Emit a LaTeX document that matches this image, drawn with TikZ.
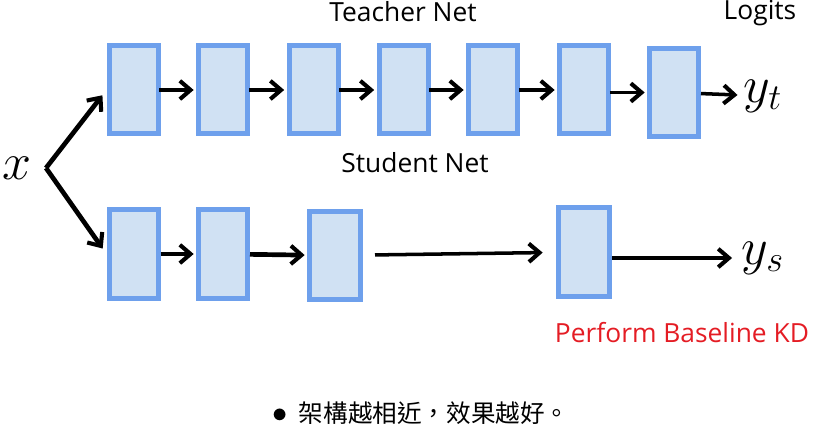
\documentclass[tikz,border=0pt]{standalone}
\usepackage{fix-cm}
\usepackage{fontspec}
\setmainfont{Open Sans}
\newfontfamily\cjk{Noto Sans CJK TC}
\usetikzlibrary{arrows.meta}
\definecolor{layerfill}{RGB}{208,225,243}
\definecolor{layeredge}{RGB}{110,160,236}
\definecolor{kdred}{RGB}{228,28,36}
\tikzset{
  layer/.style={draw=layeredge,fill=layerfill,line width=0.15cm,
    minimum width=1.47cm,minimum height=2.64cm,inner sep=0pt},
  flow/.style={line width=3pt,-{Straight Barb[length=0.32cm,width=0.55cm,line width=3.5pt]}},
  label/.style={font=\fontsize{22.5}{27}\selectfont,inner sep=0pt},
  mathlbl/.style={inner sep=2pt}
}
\newcommand{\bigmath}[1]{\scalebox{1.85}{\fontsize{24}{28}\selectfont$#1$}}
\begin{document}
\begin{tikzpicture}[x=0.03cm,y=-0.03cm]
  \useasboundingbox (0,0) rectangle (824,432);
  % teacher net
  \foreach \n/\xx/\yy in {1/133.5/90,2/223/90,3/313.5/90,4/403.5/90,5/493/90,6/584/90,7/674/92.5}
    \node[layer] (t\n) at (\xx,\yy) {};
  \foreach \a/\b in {1/2,2/3,3/4,4/5,5/6}
    \draw[flow,shorten <=-1pt,shorten >=2pt] (t\a) -- (t\b);
  \draw[flow,shorten <=-1pt,shorten >=2pt] (t6.east |- t7) -- (t7);
  % student net
  \node[layer] (s1) at (133.5,254) {};
  \node[layer] (s2) at (223,254) {};
  \node[layer,minimum width=1.53cm] (s3) at (335,255.5) {};
  \node[layer,minimum width=1.53cm] (s4) at (584,252) {};
  \draw[flow,shorten >=2pt] (s1) -- (s2);
  \draw[flow,line width=4pt,shorten >=2pt] (s2) -- (s3);
  \draw[flow,shorten <=0.36cm,shorten >=0.4cm] (s3) -- (s4);
  % input and outputs
  \node[mathlbl] (x) at (17,168) {\bigmath{x}};
  \coordinate (fork) at (46,168);
  \draw[flow,line width=4pt,shorten >=0.2cm] (fork) -- (t1.west);
  \draw[flow,line width=4pt,shorten >=0.2cm] (fork) -- (s1.west);
  \node[mathlbl] (yt) at (763,96) {\bigmath{y_t}};
  \node[mathlbl] (ys) at (763,258) {\bigmath{y_s}};
  \draw[flow,shorten >=3pt] (t7) -- (yt);
  \draw[flow,shorten >=6pt] (s4.east |- ys) -- (ys);
  % labels
  \node[label] (teachername) at (403,12) {Teacher Net};
  \node[label] (logits) at (760,13) {Logits};
  \node[label] (studentname) at (415,163) {Student Net};
  \node[label,text=kdred] (kd) at (682,333) {Perform Baseline KD};
  \node[label,font=\cjk\fontsize{21}{25}\selectfont] (note) at (421,413) {{\fontsize{26}{26}\selectfont$\bullet$}\hspace{0.45em}架構越相近，效果越好。};
\end{tikzpicture}
\end{document}
